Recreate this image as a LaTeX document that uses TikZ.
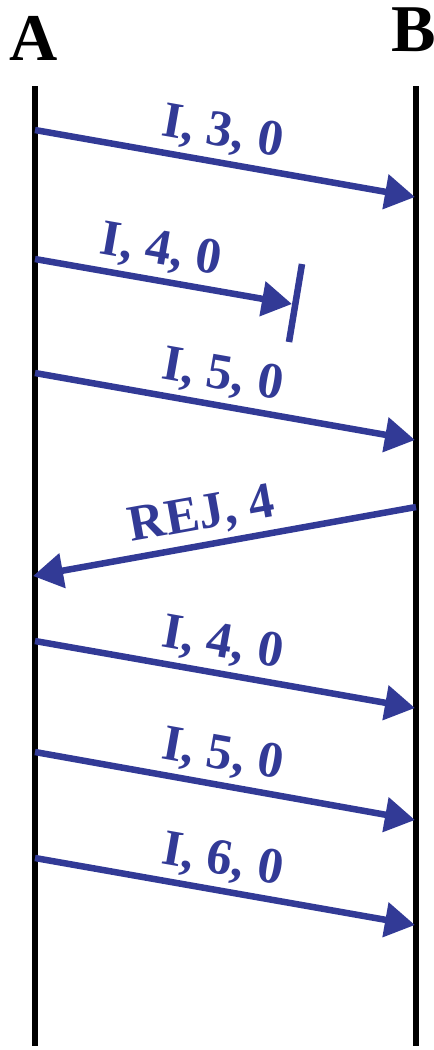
\documentclass[tikz,border=0pt]{standalone}
\usepackage{fontspec}
\setmainfont{Liberation Serif}
\usepackage{tikz}
\usetikzlibrary{arrows.meta}
\definecolor{msgblue}{RGB}{50,58,150}
\tikzset{
  lifeline/.style={line width=0.06cm, black},
  endlabel/.style={font=\fontsize{19}{19}\selectfont\bfseries, inner sep=0pt},
  msgarrow/.style={-{Triangle[length=0.3cm, width=0.34cm]}, line width=0.065cm, color=msgblue},
  msglabel/.style={font=\fontsize{14.5}{14.5}\selectfont\bfseries, text=msgblue,
    sloped, above, inner sep=0.05cm},
  lostbar/.style={line width=0.065cm, color=msgblue}
}

\begin{document}
\begin{tikzpicture}[x=0.01cm, y=-0.01cm]
  \useasboundingbox (0,0) rectangle (434,1050);

  % Stations
  \node[endlabel] (labA) at (34,38) {A};
  \node[endlabel] (labB) at (414,30) {B};
  \coordinate (topA) at (35,86);   \coordinate (botA) at (35,1046);
  \coordinate (topB) at (416,86);  \coordinate (botB) at (416,1046);
  \draw[lifeline] (topA) -- (botA);
  \draw[lifeline] (topB) -- (botB);

  % I,3,0
  \coordinate (s1) at (35,130);  \coordinate (e1) at (415,197);
  \draw[msgarrow] (s1) -- node[msglabel, pos=0.48] {I, 3, 0} (e1);

  % I,4,0 (lost)
  \coordinate (s2) at (35,259);  \coordinate (e2) at (292,304);
  \draw[msgarrow] (s2) -- node[msglabel, pos=0.47] {I, 4, 0} (e2);
  \coordinate (barT) at (302,264); \coordinate (barB) at (289,342);
  \draw[lostbar] (barT) -- (barB);

  % I,5,0
  \coordinate (s3) at (35,373);  \coordinate (e3) at (415,440);
  \draw[msgarrow] (s3) -- node[msglabel, pos=0.48] {I, 5, 0} (e3);

  % REJ,4
  \coordinate (s4) at (416,507); \coordinate (e4) at (33,576);
  \draw[msgarrow] (s4) -- node[msglabel, pos=0.545] {REJ, 4} (e4);

  % retransmission
  \coordinate (s5) at (35,641);  \coordinate (e5) at (415,708);
  \draw[msgarrow] (s5) -- node[msglabel, pos=0.48] {I, 4, 0} (e5);
  \coordinate (s6) at (35,752);  \coordinate (e6) at (415,820);
  \draw[msgarrow] (s6) -- node[msglabel, pos=0.48] {I, 5, 0} (e6);
  \coordinate (s7) at (35,858);  \coordinate (e7) at (415,925);
  \draw[msgarrow] (s7) -- node[msglabel, pos=0.48] {I, 6, 0} (e7);
\end{tikzpicture}
\end{document}
